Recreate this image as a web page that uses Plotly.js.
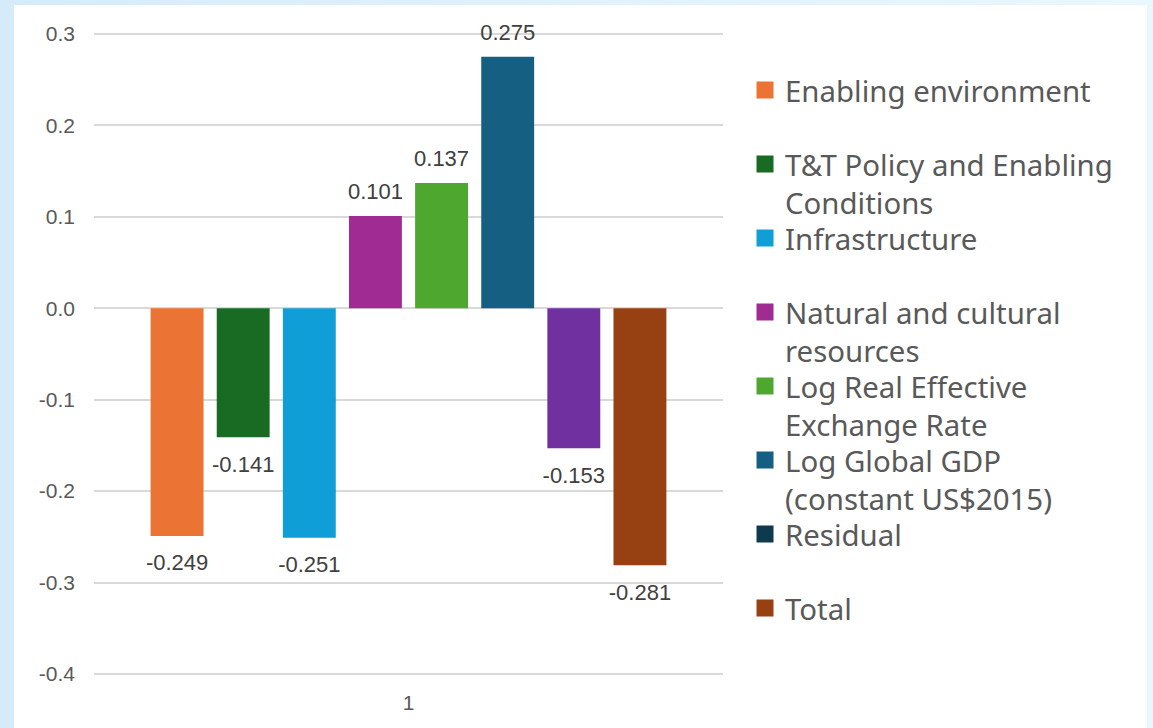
<!DOCTYPE html>
<html>
<head>
<meta charset="utf-8">
<script src="https://cdn.plot.ly/plotly-3.0.1.min.js"></script>
<style>
  html, body { margin: 0; padding: 0; width: 1153px; height: 728px; overflow: hidden;
    background: linear-gradient(to right, #d6ebfa, #e9f8fd); }
  #chart { position: absolute; left: 14px; top: 5px; width: 1133px; height: 723px; background: #ffffff; }
</style>
</head>
<body>
<div id="chart"></div>
<script>
// Decomposition of the change: one category, one bar per component
const category = ['1'];

const seriesNames = [
  'Enabling environment',
  'T&T Policy and Enabling Conditions',
  'Infrastructure',
  'Natural and cultural resources',
  'Log Real Effective Exchange Rate',
  'Log Global GDP (constant US$2015)',
  'Residual',
  'Total'
];

// Legend text, wrapped the way it is shown beside the plot
const legendLabels = [
  'Enabling environment',
  'T&T Policy and Enabling<br>Conditions',
  'Infrastructure',
  'Natural and cultural<br>resources',
  'Log Real Effective<br>Exchange Rate',
  'Log Global GDP<br>(constant US$2015)',
  'Residual',
  'Total'
];

const values = [-0.249, -0.141, -0.251, 0.101, 0.137, 0.275, -0.153, -0.281];

const barColors    = ['#EB7334', '#196B24', '#0F9ED5', '#A02B93', '#4EA72E', '#156082', '#7030A0', '#974011'];
const legendColors = ['#EB7334', '#196B24', '#0F9ED5', '#A02B93', '#4EA72E', '#156082', '#0E3A4F', '#974011'];

const yTickVals = [-0.4, -0.3, -0.2, -0.1, 0, 0.1, 0.2, 0.3];
const yTickText = ['-0.4', '-0.3', '-0.2', '-0.1', '0.0', '0.1', '0.2', '0.3'];

// Value label: a small spacer line keeps the number clear of the bar end
function labelText(v) {
  const s = '<span style="font-size:22px">' + v.toFixed(3) + '</span>';
  return v >= 0 ? s + '<br>\u00a0' : '\u00a0<br>\u00a0<br>' + s;
}

const traces = [];

// The bars themselves
values.forEach(function (v, i) {
  traces.push({
    type: 'bar',
    name: seriesNames[i],
    x: category,
    y: [v],
    marker: { color: barColors[i] },
    text: [labelText(v)],
    textposition: 'outside',
    textangle: 0,
    constraintext: 'none',
    cliponaxis: false,
    textfont: { family: 'Liberation Sans, Arial, sans-serif', size: 9, color: '#404040' },
    hoverinfo: 'name+y',
    showlegend: false
  });
});

// Legend entries, one small legend each so the rows are evenly spaced;
// drawn on a hidden overlay so they take no bar slot
const legendKeys = legendLabels.map(function (_, i) { return i === 0 ? 'legend' : 'legend' + (i + 1); });

legendLabels.forEach(function (lab, i) {
  traces.push({
    type: 'bar',
    name: lab,
    legend: legendKeys[i],
    x: [null],
    y: [null],
    xaxis: 'x2',
    yaxis: 'y2',
    marker: { color: legendColors[i], line: { color: legendColors[i], width: 5 } },
    hoverinfo: 'skip',
    showlegend: true
  });
});

// A little headroom above 0.3 and below -0.4 so both end gridlines are drawn
const layout = {
  width: 1133,
  height: 723,
  margin: { l: 80, r: 424, t: 26, b: 51, pad: 0, autoexpand: false },
  paper_bgcolor: '#ffffff',
  plot_bgcolor: '#ffffff',
  barmode: 'group',
  bargap: 0.159,
  bargroupgap: 0.2,
  font: { family: 'Liberation Sans, Arial, sans-serif', color: '#595959' },
  xaxis: {
    type: 'category',
    showgrid: false,
    zeroline: false,
    showline: false,
    ticks: '',
    ticklabelstandoff: 11,
    tickfont: { family: 'Liberation Sans, Arial, sans-serif', size: 21, color: '#595959' },
    fixedrange: true
  },
  yaxis: {
    range: [-0.40328, 0.30328],
    tickmode: 'array',
    tickvals: yTickVals,
    ticktext: yTickText,
    showgrid: true,
    gridcolor: '#d9d9d9',
    gridwidth: 1.5,
    zeroline: false,
    showline: false,
    ticks: '',
    ticklabelstandoff: 18,
    tickfont: { family: 'Liberation Sans, Arial, sans-serif', size: 21, color: '#595959' },
    fixedrange: true
  },
  xaxis2: { type: 'category', overlaying: 'x', visible: false, fixedrange: true },
  yaxis2: { overlaying: 'y', visible: false, range: [0, 1], fixedrange: true },
  showlegend: true
};

// Legend rows: first-line centres 74 px apart
const rowTop = 59.5, rowStep = 74;
legendKeys.forEach(function (key, i) {
  layout[key] = {
    x: 1.0350,
    xanchor: 'left',
    xref: 'paper',
    y: 1 - (rowTop + rowStep * i) / 723,
    yanchor: 'top',
    yref: 'container',
    valign: 'top',
    bgcolor: 'rgba(0,0,0,0)',
    font: { family: 'Noto Sans, sans-serif', size: 29.4, color: '#595959' }
  };
});

Plotly.newPlot('chart', traces, layout, { displayModeBar: false });
</script>
</body>
</html>
